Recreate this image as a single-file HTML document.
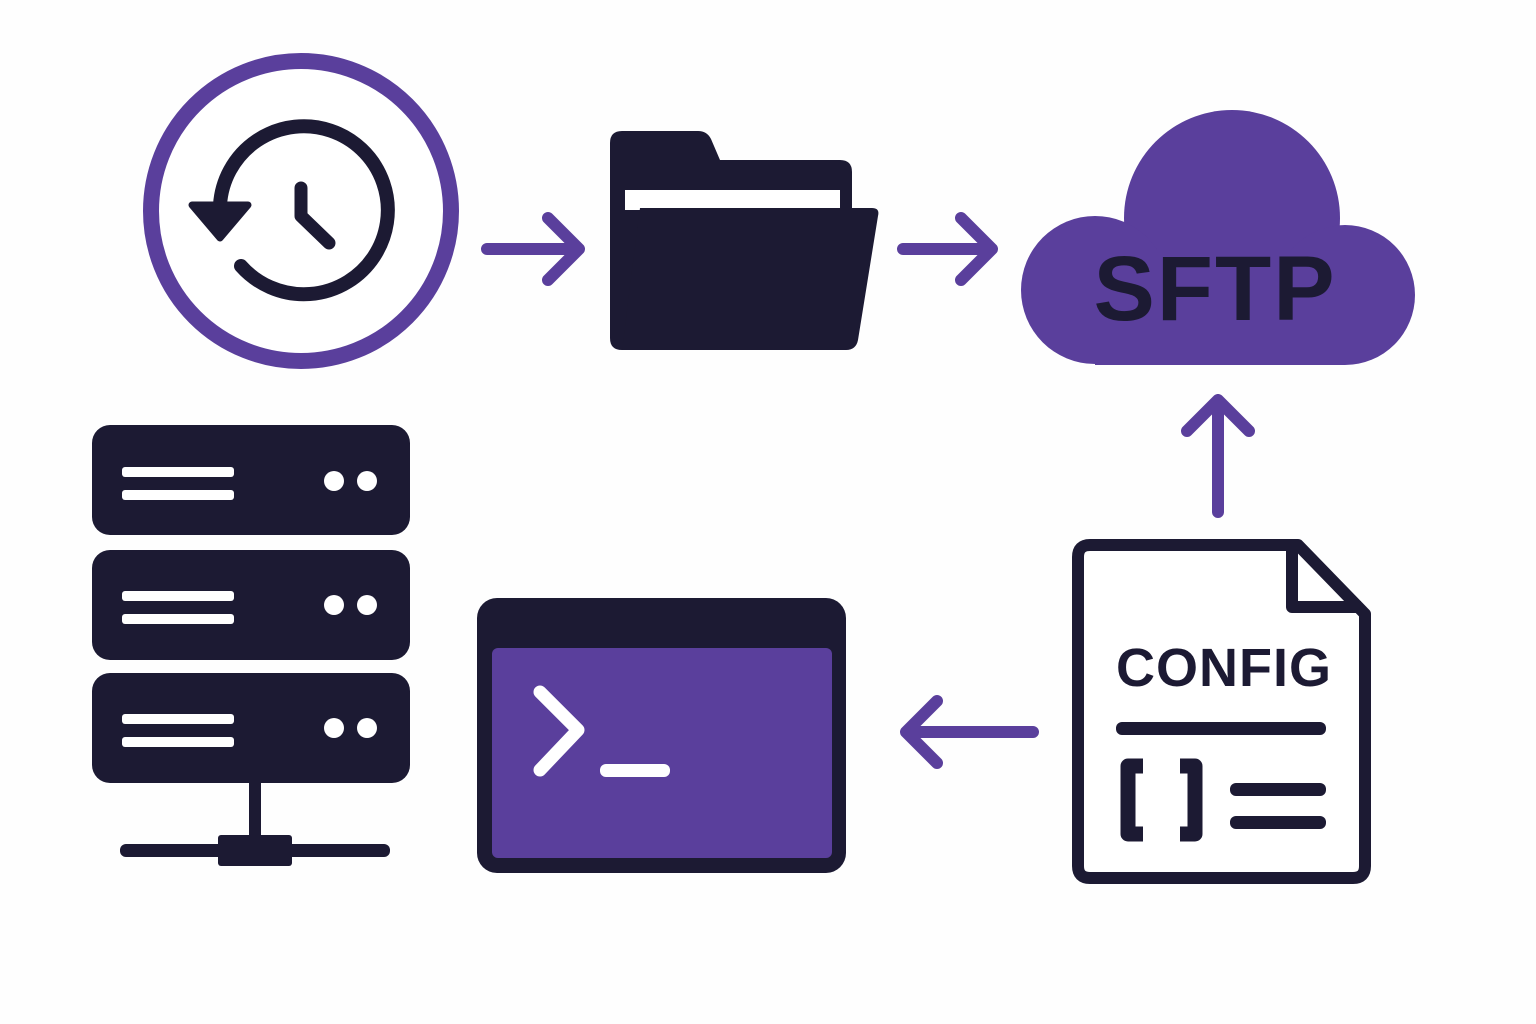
<!DOCTYPE html>
<html><head><meta charset="utf-8"><style>
html,body{margin:0;padding:0;background:#fefefe;}
svg{display:block;}
</style></head><body>
<svg width="1536" height="1024" viewBox="0 0 1536 1024" xmlns="http://www.w3.org/2000/svg">
<rect width="1536" height="1024" fill="#fefefe"/>
<!-- clock -->
<circle cx="301" cy="211" r="150" fill="#fff" stroke="#5a3f9c" stroke-width="16"/>
<path d="M220 205 A84 84 0 1 1 241 266" fill="none" stroke="#1c1a33" stroke-width="14" stroke-linecap="round"/>
<path d="M192 205 L248 205 L220 238 Z" fill="#1c1a33" stroke="#1c1a33" stroke-width="7" stroke-linejoin="round"/>
<path d="M301 188 L301 216 L329 243" fill="none" stroke="#1c1a33" stroke-width="13" stroke-linecap="round" stroke-linejoin="round"/>
<!-- arrows -->
<g fill="none" stroke="#5a3f9c" stroke-width="12" stroke-linecap="round" stroke-linejoin="round">
<path d="M487 249 L578 249 M548 218 L579 249 L548 280"/>
<path d="M903 249 L991 249 M961 218 L992 249 L961 280"/>
<path d="M1218 512 L1218 400 M1187 431 L1218 400 L1249 431"/>
<path d="M1033 732 L906 732 M937 701 L906 732 L937 763"/>
</g>
<!-- folder -->
<path d="M622 131 L698 131 Q707 131 711 139 L720 160 L840 160 Q852 160 852 172 L852 338 Q852 350 840 350 L622 350 Q610 350 610 338 L610 143 Q610 131 622 131 Z" fill="#1c1a33"/>
<rect x="625" y="190" width="215" height="20" fill="#fff"/>
<path d="M640 208 L872 208 Q880 208 878 216 L858 340 Q856 350 846 350 L622 350 Z" fill="#1c1a33"/>
<!-- cloud -->
<g fill="#5a3f9c">
<circle cx="1232" cy="218" r="108"/>
<circle cx="1095" cy="290" r="74"/>
<circle cx="1345" cy="295" r="70"/>
<rect x="1095" y="250" width="250" height="115"/>
</g>
<text x="1215" y="320" text-anchor="middle" font-family="Liberation Sans, sans-serif" font-weight="bold" font-size="92" fill="#1c1a33" letter-spacing="2">SFTP</text>
<!-- server -->
<g fill="#1c1a33">
<rect x="92" y="425" width="318" height="110" rx="18"/>
<rect x="92" y="550" width="318" height="110" rx="18"/>
<rect x="92" y="673" width="318" height="110" rx="18"/>
<rect x="249" y="783" width="12" height="65"/>
<rect x="120" y="844" width="270" height="13" rx="6"/>
<rect x="218" y="835" width="74" height="31" rx="3"/>
</g>
<g fill="#fff">
<rect x="122" y="467" width="112" height="10" rx="3"/><rect x="122" y="490" width="112" height="10" rx="3"/>
<circle cx="334" cy="481" r="10"/><circle cx="367" cy="481" r="10"/>
<rect x="122" y="591" width="112" height="10" rx="3"/><rect x="122" y="614" width="112" height="10" rx="3"/>
<circle cx="334" cy="605" r="10"/><circle cx="367" cy="605" r="10"/>
<rect x="122" y="714" width="112" height="10" rx="3"/><rect x="122" y="737" width="112" height="10" rx="3"/>
<circle cx="334" cy="728" r="10"/><circle cx="367" cy="728" r="10"/>
</g>
<!-- terminal -->
<rect x="477" y="598" width="369" height="275" rx="20" fill="#1c1a33"/>
<rect x="492" y="648" width="340" height="210" rx="6" fill="#5a3f9c"/>
<path d="M540 692 L578 730 L540 770" fill="none" stroke="#fff" stroke-width="13" stroke-linecap="round" stroke-linejoin="round"/>
<rect x="600" y="764" width="70" height="13" rx="6" fill="#fff"/>
<!-- config -->
<path d="M1090 545 L1298 545 L1365 614 L1365 866 Q1365 878 1353 878 L1090 878 Q1078 878 1078 866 L1078 557 Q1078 545 1090 545 Z" fill="#fff" stroke="#1c1a33" stroke-width="12" stroke-linejoin="round"/>
<path d="M1292 547 L1292 607 L1361 607" fill="none" stroke="#1c1a33" stroke-width="12" stroke-linejoin="round"/>
<text x="1224" y="686" text-anchor="middle" font-family="Liberation Sans, sans-serif" font-weight="bold" font-size="54" fill="#1c1a33" letter-spacing="1">CONFIG</text>
<rect x="1116" y="722" width="210" height="13" rx="6" fill="#1c1a33"/>
<path d="M1143 766 L1128 766 L1128 834 L1143 834 M1180 766 L1195 766 L1195 834 L1180 834" fill="none" stroke="#1c1a33" stroke-width="15" stroke-linejoin="round"/>
<rect x="1230" y="783" width="96" height="13" rx="6" fill="#1c1a33"/>
<rect x="1230" y="816" width="96" height="13" rx="6" fill="#1c1a33"/>
</svg>
</body></html>
